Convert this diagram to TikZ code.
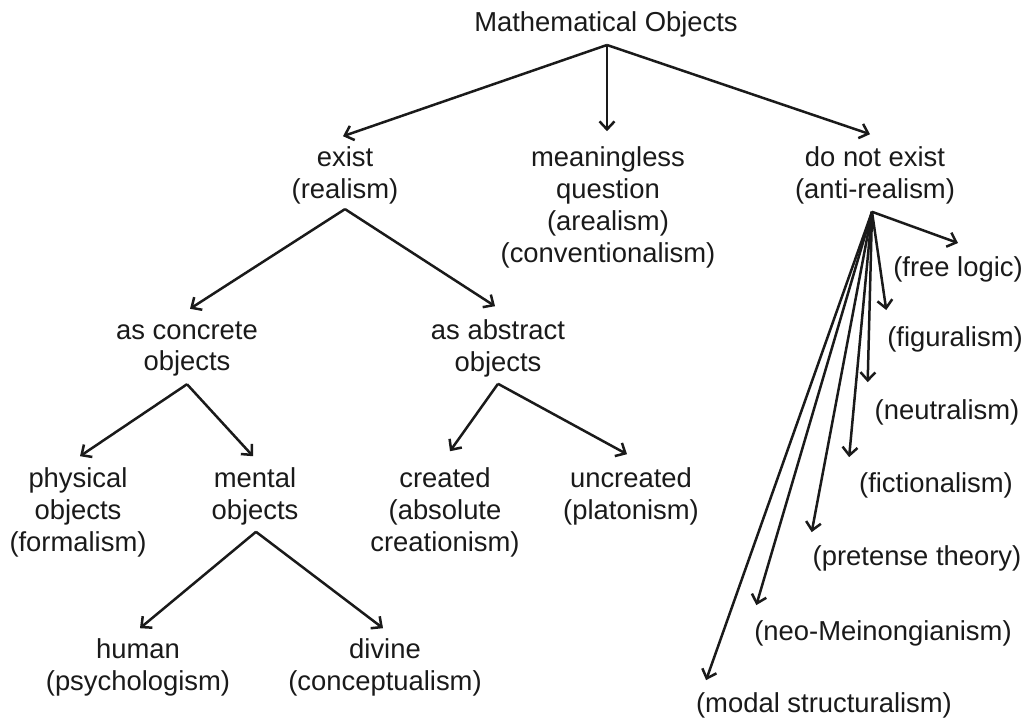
\documentclass[tikz,border=0pt]{standalone}
\usepackage{fontspec}
\setmainfont{Liberation Sans}
\usetikzlibrary{arrows.meta}
\definecolor{ink}{RGB}{26,26,26}
\tikzset{
  lbl/.style={align=center, inner sep=0pt, outer sep=0pt, text=ink,
    font=\fontsize{27.4}{31.8}\selectfont,
    execute at begin node=\strut, execute at end node=\strut},
  arr/.style={draw=ink, line width=2.5pt, -{Straight Barb[length=8pt,width=15pt]}},
}
\begin{document}
\begin{tikzpicture}[x=1pt,y=-1pt]
\useasboundingbox[fill=white] (0,0) rectangle (1026,723);
% nodes
\node[lbl] (mo) at (606,25.6) {Mathematical Objects};
\node[lbl] (ex) at (345,177.5) {exist\\(realism)};
\node[lbl] (mq) at (608,209.3) {meaningless\\question\\(arealism)\\(conventionalism)};
\node[lbl] (dne) at (875,177.5) {do not exist\\(anti-realism)};
\node[lbl] (ac) at (187,351) {as concrete\\objects};
\node[lbl] (aa) at (498,350.5) {as abstract\\objects};
\node[lbl] (po) at (78,514.4) {physical\\objects\\(formalism)};
\node[lbl] (me) at (255,498.5) {mental\\objects};
\node[lbl] (cr) at (445,514.4) {created\\(absolute\\creationism)};
\node[lbl] (un) at (631,498.5) {uncreated\\(platonism)};
\node[lbl] (hu) at (138,669.5) {human\\(psychologism)};
\node[lbl] (di) at (385,669.5) {divine\\(conceptualism)};
\node[lbl] (fl) at (958,270.6) {(free logic)};
\node[lbl] (fg) at (955,340.6) {(figuralism)};
\node[lbl] (nu) at (947,413) {(neutralism)};
\node[lbl] (fc) at (936,486) {(fictionalism)};
\node[lbl] (pt) at (917,559) {(pretense theory)};
\node[lbl] (nm) at (883,634) {(neo-Meinongianism)};
\node[lbl] (ms) at (824,706) {(modal structuralism)};
% connectors
\draw[arr] ([xshift=1pt,yshift=-3.5pt]mo.south) -- ([xshift=-2pt,yshift=10.7pt]ex.north);
\draw[arr] ([xshift=1pt,yshift=-3.5pt]mo.south) -- ([xshift=-1pt,yshift=15.7pt]mq.north);
\draw[arr] ([xshift=1pt,yshift=-3.5pt]mo.south) -- ([xshift=-5pt,yshift=12.7pt]dne.north);
\draw[arr] ([yshift=-1pt]ex.south) -- ([xshift=3pt,yshift=12.7pt]ac.north);
\draw[arr] ([yshift=-1pt]ex.south) -- ([xshift=-3pt,yshift=13.7pt]aa.north);
\draw[arr] ([yshift=-3.7pt]ac.south) -- ([xshift=2pt,yshift=11.7pt]po.north);
\draw[arr] ([yshift=-3.7pt]ac.south) -- ([xshift=-2pt,yshift=11.7pt]me.north);
\draw[arr] ([yshift=-2.7pt]aa.south) -- ([xshift=5pt,yshift=16.7pt]cr.north);
\draw[arr] ([yshift=-2.7pt]aa.south) -- ([xshift=-4pt,yshift=13.7pt]un.north);
\draw[arr] ([xshift=1pt,yshift=-2.7pt]me.south) -- ([xshift=2pt,yshift=10.7pt]hu.north);
\draw[arr] ([xshift=1pt,yshift=-2.7pt]me.south) -- ([xshift=-2pt,yshift=10.7pt]di.north);
\draw[arr] ([xshift=-3pt,yshift=-3.7pt]dne.south) -- ([yshift=11.7pt]fl.north);
\draw[arr] ([xshift=-3pt,yshift=-3.7pt]dne.south) -- ([xshift=-1pt,yshift=14.7pt]fg.north west);
\draw[arr] ([xshift=-3pt,yshift=-3.7pt]dne.south) -- ([xshift=-7pt,yshift=15pt]nu.north west);
\draw[arr] ([xshift=-3pt,yshift=-3.7pt]dne.south) -- ([xshift=-10pt,yshift=13pt]fc.north west);
\draw[arr] ([xshift=-3pt,yshift=-3.7pt]dne.south) -- ([xshift=-1pt,yshift=11pt]pt.north west);
\draw[arr] ([xshift=-3pt,yshift=-3.7pt]dne.south) -- ([xshift=2pt,yshift=13pt]nm.north west);
\draw[arr] ([xshift=-3pt,yshift=-3.7pt]dne.south) -- ([xshift=10pt,yshift=10pt]ms.north west);
\end{tikzpicture}
\end{document}
